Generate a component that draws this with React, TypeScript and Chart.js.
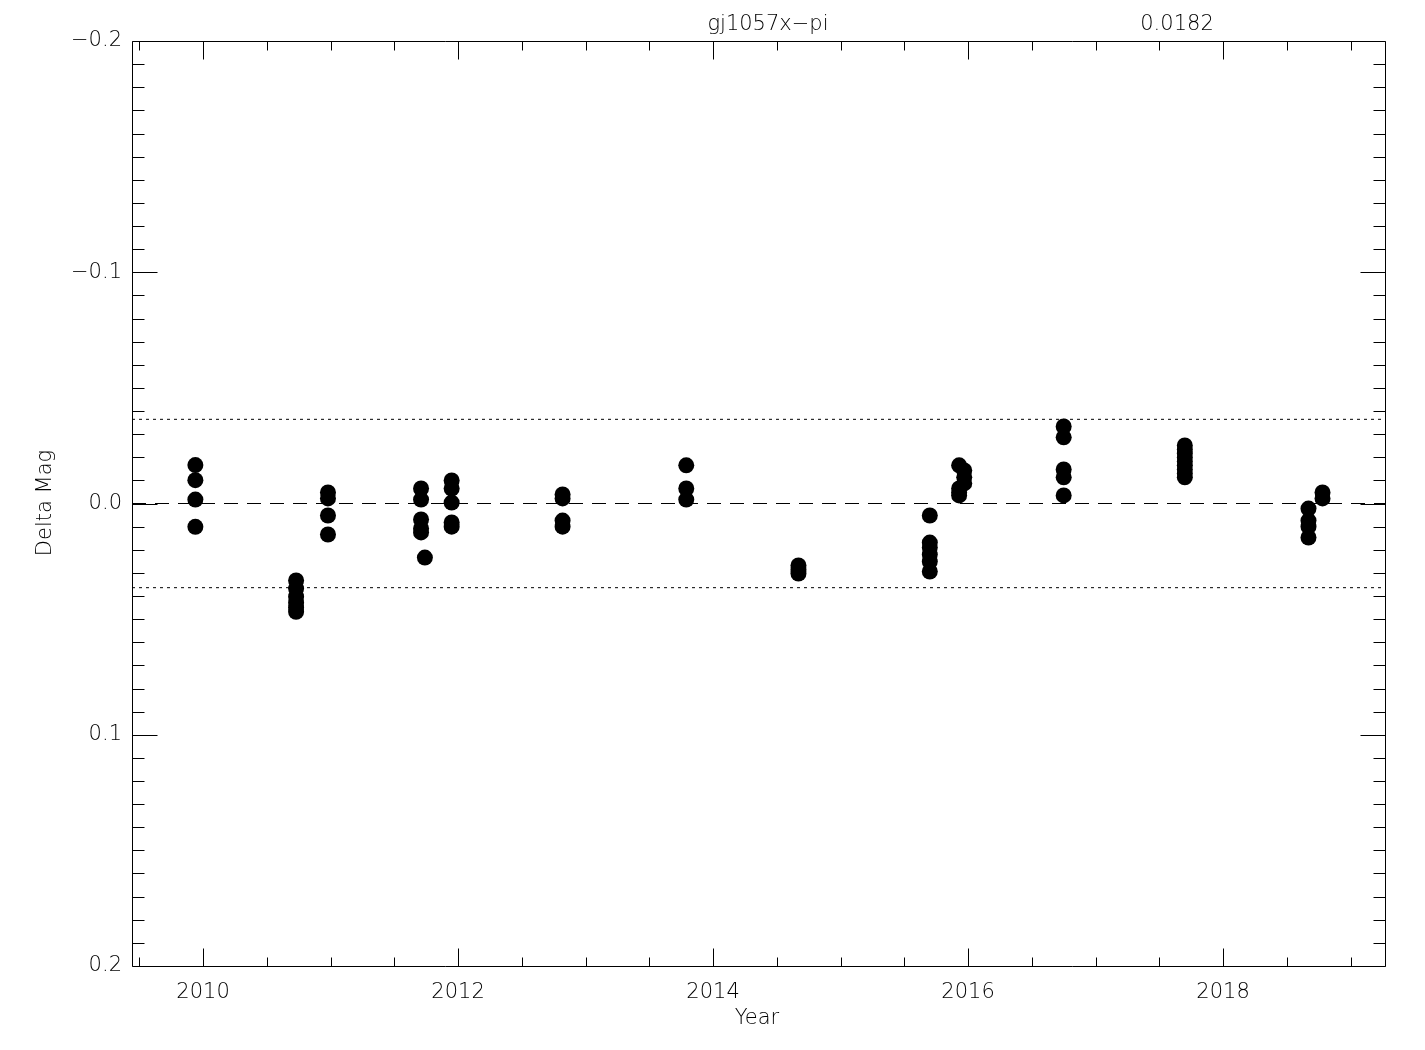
import { useEffect, useRef } from "react";
import { Chart, registerables } from "chart.js";

Chart.register(...registerables);

const xMin = 2009.443;
const xMax = 2019.27;
const yMin = -0.2;
const yMax = 0.2;
const xMajorTicks = [2010, 2012, 2014, 2016, 2018];
const xMinorStep = 0.5;
const yMajorTicks = [-0.2, -0.1, 0.0, 0.1, 0.2];
const yMinorStep = 0.01;
const titleText = "gj1057x\u2212pi";
const sigmaText = "0.0182";
const xTitle = "Year";
const yTitle = "Delta Mag";
const limitValue = 0.0364;

const obsYear = [
  2009.94, 2009.94, 2009.94, 2009.94,
  2010.73, 2010.73, 2010.73, 2010.73, 2010.73, 2010.73,
  2010.98, 2010.98, 2010.98, 2010.98,
  2011.71, 2011.71, 2011.71, 2011.71, 2011.71, 2011.74,
  2011.95, 2011.95, 2011.95, 2011.95, 2011.95,
  2012.82, 2012.82, 2012.82, 2012.82,
  2013.79, 2013.79, 2013.79,
  2014.67, 2014.67, 2014.67,
  2015.70, 2015.70, 2015.70, 2015.70, 2015.70, 2015.70,
  2015.93, 2015.93, 2015.93, 2015.93, 2015.97, 2015.97, 2015.97,
  2016.75, 2016.75, 2016.75, 2016.75, 2016.75,
  2017.70, 2017.70, 2017.70, 2017.70, 2017.70, 2017.70, 2017.70, 2017.70, 2017.70,
  2018.67, 2018.67, 2018.67, 2018.67, 2018.78, 2018.78,
];

const obsDeltaMag = [
  -0.0166, -0.0101, -0.0017, 0.0101,
  0.0333, 0.0368, 0.0403, 0.0429, 0.045, 0.0468,
  -0.0048, -0.0022, 0.0052, 0.0134,
  -0.0065, -0.0017, 0.0069, 0.0108, 0.0125, 0.0234,
  -0.01, -0.0065, -0.0004, 0.0082, 0.01,
  -0.0039, -0.0022, 0.0074, 0.01,
  -0.0165, -0.0065, -0.0017,
  0.0268, 0.0286, 0.0303,
  0.0052, 0.0169, 0.019, 0.0221, 0.0251, 0.0294,
  -0.0165, -0.0065, -0.0048, -0.0035, -0.0143, -0.0113, -0.0087,
  -0.0333, -0.0286, -0.0147, -0.0113, -0.0035,
  -0.0251, -0.0234, -0.0216, -0.0199, -0.0182, -0.0165, -0.0147, -0.013, -0.0113,
  0.0022, 0.0074, 0.01, 0.0147, -0.0048, -0.0022,
];

const FONT_FAMILY = "'DejaVu Sans', 'Liberation Sans', sans-serif";
const FONT_SIZE = 21;
const FONT_WEIGHT = 200;

const framePlugin = {
  id: "idlFrame",
  afterDatasetsDraw(chart: any) {
    const ctx = chart.ctx;
    const { left, right, top, bottom } = chart.chartArea;
    const xs = chart.scales.x;
    const ys = chart.scales.y;
    const L = Math.round(left) + 0.5;
    const R = Math.round(right) + 0.5;
    const T = Math.round(top) + 0.5;
    const B = Math.round(bottom) + 0.5;
    ctx.save();
    ctx.strokeStyle = "#000";
    ctx.lineWidth = 1;
    ctx.setLineDash([]);
    ctx.beginPath();
    ctx.rect(L, T, R - L, B - T);
    const xStart = Math.ceil(xMin / xMinorStep) * xMinorStep;
    for (let v = xStart; v <= xMax + 1e-9; v += xMinorStep) {
      const major = xMajorTicks.some((m) => Math.abs(m - v) < 1e-6);
      const len = major ? 18 : 9;
      const px = Math.round(xs.getPixelForValue(v)) + 0.5;
      ctx.moveTo(px, B);
      ctx.lineTo(px, B - len);
      ctx.moveTo(px, T);
      ctx.lineTo(px, T + len);
    }
    const n = Math.round((yMax - yMin) / yMinorStep);
    for (let i = 0; i <= n; i++) {
      const v = yMin + i * yMinorStep;
      const major = yMajorTicks.some((m) => Math.abs(m - v) < 1e-6);
      const len = major ? 25 : 12;
      const py = Math.round(ys.getPixelForValue(v)) + 0.5;
      ctx.moveTo(L, py);
      ctx.lineTo(L + len, py);
      ctx.moveTo(R, py);
      ctx.lineTo(R - len, py);
    }
    ctx.stroke();

    ctx.fillStyle = "#000";
    ctx.font = `${FONT_WEIGHT} ${FONT_SIZE}px ${FONT_FAMILY}`;
    ctx.textAlign = "center";
    ctx.textBaseline = "middle";
    ctx.fillText(titleText, 768, 25);
    ctx.fillText(sigmaText, 1177, 25);
    ctx.fillText(xTitle, 757, 1019);
    ctx.translate(46, 503);
    ctx.rotate(-Math.PI / 2);
    ctx.fillText(yTitle, 0, 0);
    ctx.restore();
  },
};

export default function App() {
  const canvasRef = useRef<HTMLCanvasElement | null>(null);

  useEffect(() => {
    const canvas = canvasRef.current;
    if (!canvas) return;
    const points = obsYear.map((x, i) => ({ x, y: obsDeltaMag[i] }));
    const refLine = (y: number, dash: number[]) =>
      ({
        type: "line",
        data: [
          { x: xMin, y },
          { x: xMax, y },
        ],
        borderColor: "#000",
        borderWidth: 1,
        borderDash: dash,
        pointRadius: 0,
        fill: false,
      }) as any;
    const chart = new Chart(canvas, {
      type: "scatter",
      data: {
        datasets: [
          refLine(0, [14, 9]),
          refLine(-limitValue, [3, 4]),
          refLine(limitValue, [3, 4]),
          {
            data: points,
            backgroundColor: "#000",
            borderColor: "#000",
            borderWidth: 0,
            pointRadius: 8,
            pointHoverRadius: 8,
          },
        ],
      },
      options: {
        animation: false,
        responsive: false,
        devicePixelRatio: 1,
        layout: { padding: { top: 41, right: 40, left: 0, bottom: 0 } },
        plugins: {
          legend: { display: false },
          tooltip: { enabled: false },
          title: { display: false },
        },
        scales: {
          x: {
            type: "linear",
            min: xMin,
            max: xMax,
            grid: { display: false, drawTicks: false },
            border: { display: false },
            afterBuildTicks: (scale: any) => {
              scale.ticks = xMajorTicks.map((value) => ({ value }));
            },
            afterFit: (scale: any) => {
              scale.height = 84;
            },
            ticks: {
              color: "#000",
              padding: 14,
              maxRotation: 0,
              autoSkip: false,
              font: { family: FONT_FAMILY, size: FONT_SIZE, weight: FONT_WEIGHT as any },
              callback: (v: any) => String(v),
            },
          },
          y: {
            type: "linear",
            min: yMin,
            max: yMax,
            reverse: true,
            grid: { display: false, drawTicks: false },
            border: { display: false },
            afterBuildTicks: (scale: any) => {
              scale.ticks = yMajorTicks.map((value) => ({ value }));
            },
            afterFit: (scale: any) => {
              scale.width = 132;
            },
            ticks: {
              color: "#000",
              padding: 10,
              autoSkip: false,
              font: { family: FONT_FAMILY, size: FONT_SIZE, weight: FONT_WEIGHT as any },
              callback: (v: any) => {
                const n = Number(v);
                if (Math.abs(n) < 1e-9) return "0.0";
                return (n < 0 ? "\u2212" : "") + Math.abs(n).toFixed(1);
              },
            },
          },
        },
      },
      plugins: [framePlugin],
    });
    return () => chart.destroy();
  }, []);

  return (
    <div style={{ position: "fixed", left: 0, top: 0, width: 1425, height: 1050, background: "#fff" }}>
      <canvas ref={canvasRef} width={1425} height={1050} style={{ display: "block", width: 1425, height: 1050 }} />
    </div>
  );
}
